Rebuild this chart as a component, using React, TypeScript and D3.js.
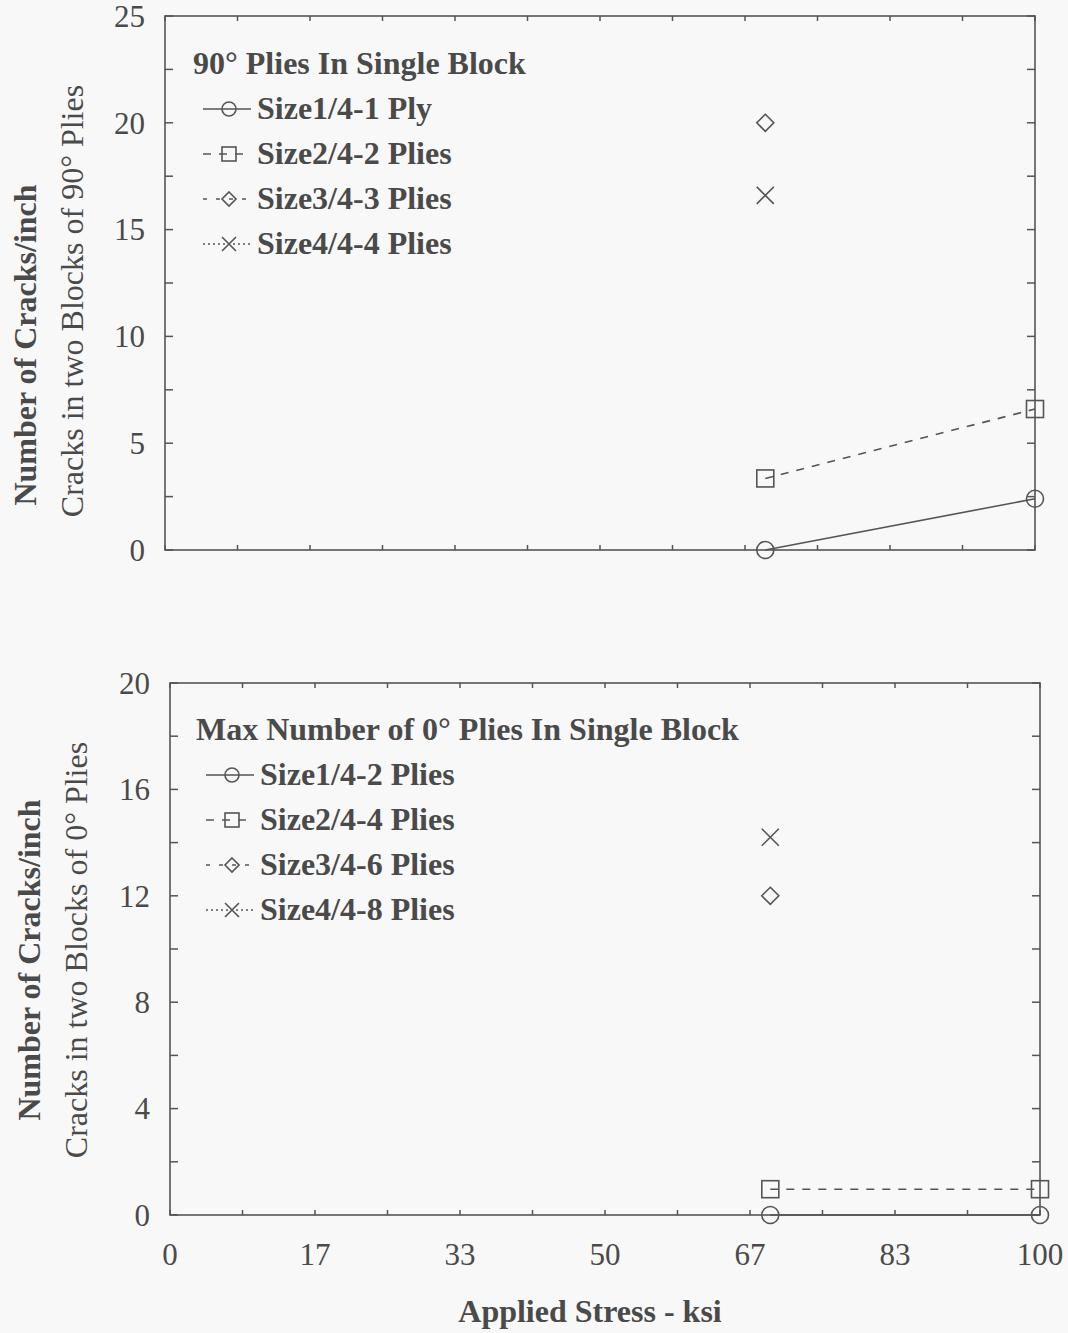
import React from "react";
import * as d3 from "d3";

// ---- data ----
const stress = [69, 100];
const xTickLabels = ["0", "17", "33", "50", "67", "83", "100"];

const topTitle = "90° Plies In Single Block";
const topLegend = ["Size1/4-1 Ply", "Size2/4-2 Plies", "Size3/4-3 Plies", "Size4/4-4 Plies"];
const topS1 = [0, 2.4];
const topS2 = [3.35, 6.6];
const topS3 = [20, null];
const topS4 = [16.6, null];
const topYTicks = [0, 5, 10, 15, 20, 25];

const botTitle = "Max Number of 0° Plies In Single Block";
const botLegend = ["Size1/4-2 Plies", "Size2/4-4 Plies", "Size3/4-6 Plies", "Size4/4-8 Plies"];
const botS1 = [0, 0];
const botS2 = [0.97, 0.97];
const botS3 = [12.0, null];
const botS4 = [14.2, null];
const botYTicks = [0, 4, 8, 12, 16, 20];

const INK = "#4a4a4a";
const LINE = "#555";
const FONT = "'Liberation Serif', 'Times New Roman', serif";
const FS = 31;
const FSB = 32;

const dashes = [null, "8,8", "4,9", "2,3"];
const markers = ["circle", "square", "diamond", "x"];

function Marker({ type, x, y, s = 8.5 }) {
  const common = { fill: "none", stroke: LINE, strokeWidth: 1.6 };
  if (type === "circle") return <circle cx={x} cy={y} r={s} {...common} />;
  if (type === "square") return <rect x={x - s} y={y - s} width={2 * s} height={2 * s} {...common} />;
  if (type === "diamond")
    return <path d={`M${x},${y - s}L${x + s},${y}L${x},${y + s}L${x - s},${y}Z`} {...common} />;
  return <path d={`M${x - s},${y - s}L${x + s},${y + s}M${x - s},${y + s}L${x + s},${y - s}`} {...common} />;
}

function Panel({ x0, y0, w, h, yMax, yTicks, yMinorStep, series, title, legend, legX, legY, showXLabels, yLab1, yLab2, yLab1X, yLab2X, yLab1Y, yLab2Y }) {
  const x = d3.scaleLinear().domain([0, 100]).range([x0, x0 + w]);
  const y = d3.scaleLinear().domain([0, yMax]).range([y0 + h, y0]);
  const xMinor = d3.range(0, 13).map((i) => (i * 100) / 12);
  const yMinor = d3.range(0, yMax + 0.001, yMinorStep);
  const line = d3
    .line()
    .defined((d) => d[1] != null)
    .x((d) => x(d[0]))
    .y((d) => y(d[1]));
  return (
    <g>
      <rect x={x0} y={y0} width={w} height={h} fill="none" stroke={LINE} strokeWidth={1.6} />
      {xMinor.map((v, i) => (
        <g key={"xt" + i}>
          <line x1={x(v)} x2={x(v)} y1={y0 + h} y2={y0 + h - 5} stroke={LINE} strokeWidth={1.5} />
          <line x1={x(v)} x2={x(v)} y1={y0} y2={y0 + 5} stroke={LINE} strokeWidth={1.5} />
        </g>
      ))}
      {yMinor.map((v, i) => (
        <g key={"yt" + i}>
          <line x1={x0} x2={x0 + 8} y1={y(v)} y2={y(v)} stroke={LINE} strokeWidth={1.5} />
          <line x1={x0 + w} x2={x0 + w - 8} y1={y(v)} y2={y(v)} stroke={LINE} strokeWidth={1.5} />
        </g>
      ))}
      {yTicks.map((v) => (
        <text key={"yl" + v} x={x0 - 20} y={y(v)} dy="0.35em" textAnchor="end" fontFamily={FONT} fontSize={FS} fill={INK}>
          {v}
        </text>
      ))}
      {showXLabels &&
        xTickLabels.map((t, i) => (
          <text key={"xl" + i} x={x((i * 100) / 6)} y={y0 + h + 50} textAnchor="middle" fontFamily={FONT} fontSize={FS} fill={INK}>
            {t}
          </text>
        ))}
      {series.map((s, i) => {
        const pts = stress.map((sx, j) => [sx, s[j]]);
        return (
          <g key={"s" + i}>
            <path d={line(pts)} fill="none" stroke={LINE} strokeWidth={1.6} strokeDasharray={dashes[i] || undefined} />
            {pts
              .filter((p) => p[1] != null)
              .map((p, j) => (
                <Marker key={j} type={markers[i]} x={x(p[0])} y={y(p[1])} />
              ))}
          </g>
        );
      })}
      <text x={legX - 10} y={legY} fontFamily={FONT} fontSize={FSB} fontWeight="bold" fill={INK}>
        {title}
      </text>
      {legend.map((t, i) => {
        const by = legY + 45 * (i + 1);
        const cy = by - 10;
        return (
          <g key={"lg" + i}>
            <line x1={legX} x2={legX + 48} y1={cy} y2={cy} stroke={LINE} strokeWidth={1.4} strokeDasharray={dashes[i] || undefined} />
            <Marker type={markers[i]} x={legX + 26} y={cy} s={7} />
            <text x={legX + 54} y={by} fontFamily={FONT} fontSize={FSB} fontWeight="bold" fill={INK}>
              {t}
            </text>
          </g>
        );
      })}
      <text transform={`translate(${yLab1X},${yLab1Y}) rotate(-90)`} textAnchor="middle" fontFamily={FONT} fontSize={FSB} fontWeight="bold" fill={INK}>
        {yLab1}
      </text>
      <text transform={`translate(${yLab2X},${yLab2Y}) rotate(-90)`} textAnchor="middle" fontFamily={FONT} fontSize={FSB} fill={INK}>
        {yLab2}
      </text>
    </g>
  );
}

export default function App() {
  return (
    <svg width={1068} height={1333} style={{ position: "absolute", left: 0, top: 0 }}>
      <rect width={1068} height={1333} fill="#f8f8f8" />
      <Panel
        x0={165} y0={16} w={870} h={534} yMax={25} yTicks={topYTicks} yMinorStep={2.5}
        series={[topS1, topS2, topS3, topS4]} title={topTitle} legend={topLegend}
        legX={203} legY={74} showXLabels={false}
        yLab1="Number of Cracks/inch" yLab2="Cracks in two Blocks of 90° Plies"
        yLab1X={36} yLab2X={83} yLab1Y={345} yLab2Y={301}
      />
      <Panel
        x0={170} y0={683} w={870} h={532} yMax={20} yTicks={botYTicks} yMinorStep={2}
        series={[botS1, botS2, botS3, botS4]} title={botTitle} legend={botLegend}
        legX={206} legY={740} showXLabels={true}
        yLab1="Number of Cracks/inch" yLab2="Cracks in two Blocks of 0° Plies"
        yLab1X={40} yLab2X={87} yLab1Y={960} yLab2Y={950}
      />
      <text x={590} y={1322} textAnchor="middle" fontFamily={FONT} fontSize={FSB} fontWeight="bold" fill={INK}>
        Applied Stress - ksi
      </text>
    </svg>
  );
}
